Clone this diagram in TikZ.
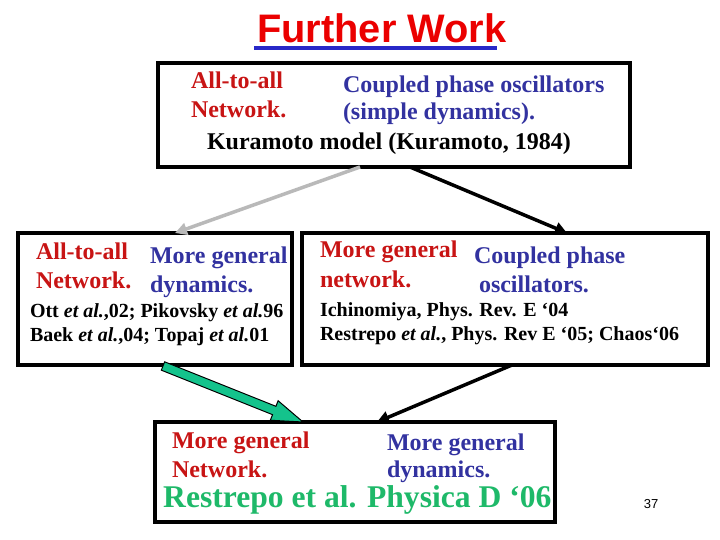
\documentclass[tikz,border=0pt]{standalone}
\usepackage{fontspec}
\setmainfont{Liberation Serif}
\newfontfamily\arialf{Liberation Sans}
\usetikzlibrary{arrows.meta,calc}
\definecolor{tred}{RGB}{235,0,0}
\definecolor{ured}{RGB}{200,20,20}
\definecolor{ublue}{RGB}{50,50,160}
\definecolor{lineblue}{RGB}{40,40,200}
\definecolor{pgreen}{RGB}{30,185,105}
\definecolor{agreen}{RGB}{20,195,140}
\begin{document}
\begin{tikzpicture}[x=1pt,y=-1pt,
 box/.style={draw=black,line width=4pt,inner sep=0,outer sep=0,fill=white},
 txt/.style={inner sep=0,outer sep=0,anchor=base west,font=\bfseries\fontsize{24}{24}\selectfont},
 small/.style={inner sep=0,outer sep=0,anchor=base west,font=\bfseries\fontsize{20}{20}\selectfont},
 conn/.style={line width=3.5pt,-{Triangle[length=12pt,width=12pt]}}]
\useasboundingbox (0,0) rectangle (720,540);
\fill[white] (0,0) rectangle (720,540);
% title
\node[anchor=base west,inner sep=0,font=\arialf\bfseries\fontsize{39.8}{40}\selectfont,text=tred] (title) at (257,43) {Further Work};
\draw[lineblue,line width=4pt] ($(title.base west)+(-3,5)$) -- ($(title.base east)+(-10,5)$);
% boxes
\node[box,minimum width=472pt,minimum height=104pt] (top) at (394,115) {};
\node[box,minimum width=274pt,minimum height=132pt] (left) at (155,299) {};
\node[box,minimum width=406pt,minimum height=132pt] (right) at (505,299) {};
\node[box,minimum width=400pt,minimum height=100pt] (bot) at (355,472) {};
% top box texts
\node[txt,text=ured] (t1) at (191,89) {All-to-all};
\node[txt,text=ured] (t2) at (191,118) {Network.};
\node[txt,text=ublue] (t3) at (343,93) {Coupled phase oscillators};
\node[txt,text=ublue] (t4) at (343,120) {(simple dynamics).};
\node[txt] (t5) at (207,150) {Kuramoto model (Kuramoto, 1984)};
% left box texts
\node[txt,text=ured] (l1) at (36,259) {All-to-all};
\node[txt,text=ured] (l2) at (36,288) {Network.};
\node[txt,text=ublue] (l3) at (150,263) {More general};
\node[txt,text=ublue] (l4) at (150,292) {dynamics.};
\node[small] (l5) at (30,317) {Ott \textit{et al.},02; Pikovsky \textit{et al.}96};
\node[small] (l6) at (30,341) {Baek \textit{et al.},04; Topaj \textit{et al.}01};
% right box texts
\node[txt,text=ured] (r1) at (320,258) {More general};
\node[txt,text=ured] (r2) at (320,287) {network.};
\node[txt,text=ublue] (r3) at (474,263) {Coupled phase};
\node[txt,text=ublue] (r4) at (479,292) {oscillators.};
\node[small] (r5) at (320,316) {Ichinomiya, Phys. Rev. E ‘04};
\node[small] (r6) at (320,340) {Restrepo \textit{et al.}, Phys. Rev E ‘05; Chaos‘06};
% bottom box texts
\node[txt,text=ured] (b1) at (172,448) {More general};
\node[txt,text=ured] (b2) at (172,477) {Network.};
\node[txt,text=ublue] (b3) at (387,450) {More general};
\node[txt,text=ublue] (b4) at (387,477) {dynamics.};
\node[inner sep=0,anchor=base west,text height=22pt,font=\bfseries\fontsize{31.6}{32}\selectfont,text=pgreen] (b5) at (163,507) {Restrepo et al. Physica D ‘06};
% page number
\node[inner sep=0,anchor=base,font=\arialf\fontsize{13}{13}\selectfont] (pn) at (651,508) {37};
% connectors
\draw[conn,draw=gray!55,fill=gray!55] ($(top.south west)+(202,0)$) -- ($(left.north west)+(157,0)$);
\draw[conn] ($(top.south west)+(252,0)$) -- ($(right.north west)+(265,0)$);
\draw[conn] ($(right.south west)+(210,0)$) -- ($(bot.north west)+(222,0)$);
% green block arrow
\coordinate (gs) at ($(left.south west)+(145,1)$);
\coordinate (ge) at ($(bot.north west)+(148,0)$);
\coordinate (gh) at ($(ge)!31pt!(gs)$);
\draw[fill=agreen,line width=1pt,line join=miter]
  ($(gs)!4.5pt!90:(ge)$) -- ($(gh)!4.5pt!-90:(gs)$) -- ($(gh)!10.5pt!-90:(gs)$) -- (ge)
  -- ($(gh)!10.5pt!90:(gs)$) -- ($(gh)!4.5pt!90:(gs)$) -- ($(gs)!4.5pt!-90:(ge)$) -- cycle;
\end{tikzpicture}
\end{document}
